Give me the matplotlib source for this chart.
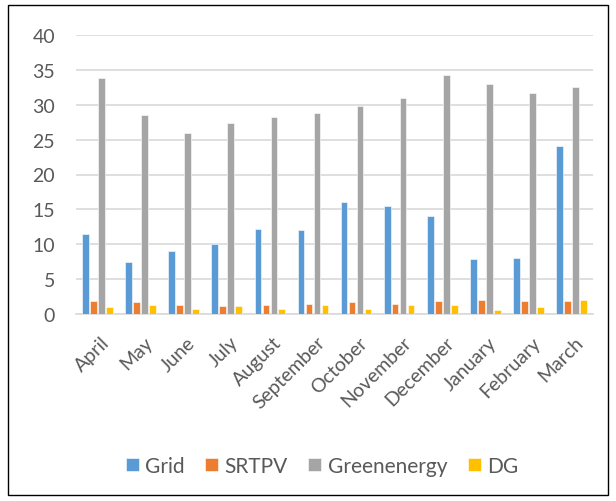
import matplotlib
matplotlib.use("Agg")
import matplotlib.pyplot as plt
import matplotlib.transforms as mtransforms
import numpy as np
from matplotlib.patches import Rectangle

months = ["April", "May", "June", "July", "August", "September", "October",
          "November", "December", "January", "February", "March"]
grid = [11.4, 7.4, 9.0, 10.0, 12.25, 12.1, 16.0, 15.55, 14.05, 7.9, 8.1, 24.15]
srtpv = [1.9, 1.7, 1.35, 1.15, 1.35, 1.5, 1.65, 1.4, 1.8, 1.95, 1.85, 1.85]
green = [33.8, 28.5, 26.0, 27.4, 28.2, 28.75, 29.75, 30.95, 34.25, 32.95, 31.65, 32.5]
dg = [1.0, 1.25, 0.7, 1.2, 0.7, 1.35, 0.75, 1.3, 1.25, 0.6, 1.0, 1.95]
series_names = ["Grid", "SRTPV", "Greenenergy", "DG"]
yticks = [0, 5, 10, 15, 20, 25, 30, 35, 40]

colors = ["#5B9BD5", "#ED7D31", "#A5A5A5", "#FFC000"]
plt.rcParams['font.family'] = ['Lato', 'DejaVu Sans']

fig = plt.figure(figsize=(6.16, 5.02), dpi=100)
ax = fig.add_axes([76/616, 1-315/502, (593-76)/616, (315-36)/502])

x = np.arange(len(months))
step = 0.185
width = 0.155
for i, (vals, name, c) in enumerate(zip([grid, srtpv, green, dg], series_names, colors)):
    ax.bar(x + (i - 1.5) * step, vals, width=width, color=c, label=name,
           edgecolor='white', linewidth=0.4, zorder=3)

ax.set_xlim(-0.5, len(months) - 0.5)
ax.set_ylim(0, 40)
ax.set_yticks(yticks)
ax.yaxis.grid(True, color='#D9D9D9', linewidth=1.2, zorder=0)
ax.set_axisbelow(True)
for s in ['left', 'right', 'top']:
    ax.spines[s].set_visible(False)
ax.spines['bottom'].set_color('#D9D9D9')
ax.spines['bottom'].set_linewidth(1.2)
ax.tick_params(axis='both', length=0, colors='#595959', labelsize=14)
ax.tick_params(axis='y', pad=15)
ax.set_xticks(x)
ax.set_xticklabels(months, rotation=45, ha='right', va='top', rotation_mode='anchor')
ax.tick_params(axis='x', pad=14)
shift = mtransforms.ScaledTranslation(3/100, 0, fig.dpi_scale_trans)
for lbl in ax.get_xticklabels():
    lbl.set_transform(lbl.get_transform() + shift)

leg = fig.legend(loc='center', bbox_to_anchor=(322/616, 1-467/502), ncol=4, frameon=False,
                 fontsize=15, handlelength=0.62, handleheight=0.62, columnspacing=1.0,
                 handletextpad=0.3, labelcolor='#595959')

fig.patches.append(Rectangle((8/616, 1-496/502), 600/616, 490/502, transform=fig.transFigure,
                             fill=False, edgecolor='black', linewidth=1))

fig.savefig("out.png", dpi=100)
